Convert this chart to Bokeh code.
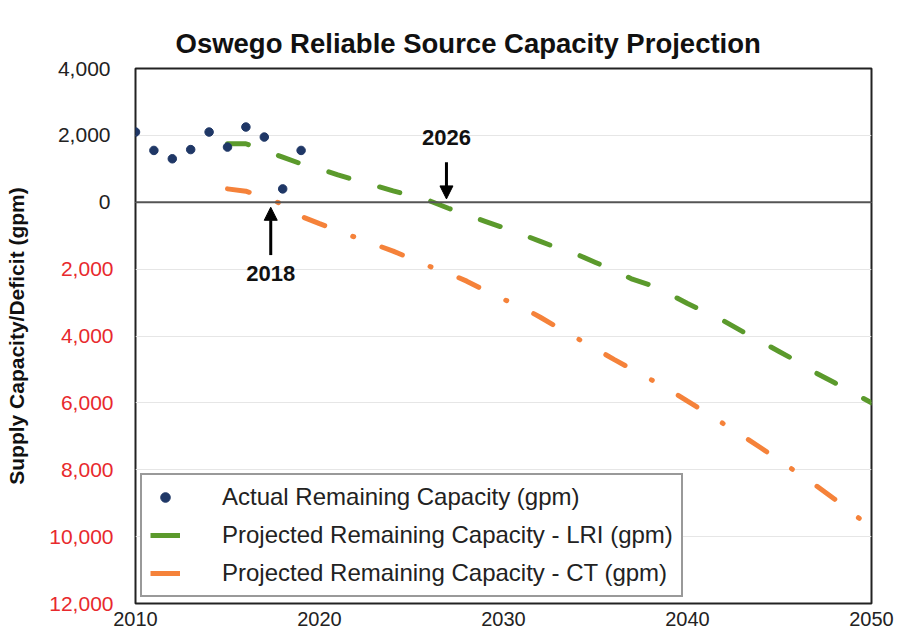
from bokeh.plotting import figure
from bokeh.models import (Range1d, FixedTicker, LinearAxis, Span, Arrow, NormalHead,
                          Label, Legend, LegendItem)
from bokeh.embed import file_html
from bokeh.resources import INLINE

# ---- data ----
years_actual = [2010, 2011, 2012, 2013, 2014, 2015, 2016, 2017, 2018, 2019]
actual_capacity = [2100, 1550, 1300, 1575, 2100, 1650, 2250, 1950, 400, 1550]

years_proj = list(range(2015, 2051))
lri_capacity = [1750, 1750, 1550, 1350, 1150, 1000, 820, 650, 500, 340,
                190, 40, -180, -380, -570, -760, -960, -1170, -1380, -1560,
                -1800, -2040, -2300, -2480, -2740, -3030, -3290, -3560, -3870, -4170,
                -4470, -4770, -5110, -5400, -5700, -6000]
ct_capacity = [400, 330, 150, -60, -420, -640, -850, -1060, -1260, -1460,
               -1690, -1920, -2120, -2360, -2640, -2900, -3140, -3440, -3760, -4070,
               -4380, -4700, -5000, -5300, -5600, -5950, -6290, -6640, -6990, -7350,
               -7720, -8100, -8480, -8880, -9320, -9720]

y_ticks_pos = [4000, 2000, 0]
y_labels_pos = ["4,000", "2,000", "0"]
y_ticks_neg = [-2000, -4000, -6000, -8000, -10000, -12000]
y_labels_neg = ["2,000", "4,000", "6,000", "8,000", "10,000", "12,000"]
x_ticks = [2010, 2020, 2030, 2040, 2050]

FONT = "Liberation Sans"
GREEN = "#5B9A2C"
ORANGE = "#F5823A"
NAVY = "#1F3766"
RED = "#E8292D"
DARK = "#222222"
TICK_PX = 21

p = figure(width=894, height=628, output_backend="svg", toolbar_location=None,
           x_range=Range1d(2010, 2050), y_range=Range1d(-12000, 4000),
           min_border_left=135, min_border_right=23, min_border_top=68, min_border_bottom=20)

p.title.text = "Oswego Reliable Source Capacity Projection"
p.title.text_font = FONT
p.title.text_font_size = "27.5px"
p.title.text_font_style = "bold"
p.title.text_color = "#111111"
p.title.align = "left"
p.title.offset = 40
p.title.standoff = 19

p.outline_line_color = "#222222"
p.outline_line_width = 2
p.background_fill_color = "white"
p.border_fill_color = "white"

# x axis
p.xaxis.ticker = FixedTicker(ticks=x_ticks)
p.xaxis.axis_line_color = None
p.xaxis.major_tick_line_color = None
p.xaxis.minor_tick_line_color = None
p.xaxis.major_label_text_font = FONT
p.xaxis.major_label_text_font_size = "20px"
p.xaxis.major_label_text_color = DARK
p.xaxis.major_label_standoff = 2

def style_y(ax, color, standoff):
    ax.axis_line_color = None
    ax.major_tick_line_color = None
    ax.minor_tick_line_color = None
    ax.major_tick_out = 0
    ax.major_label_text_font = FONT
    ax.major_label_text_font_size = f"{TICK_PX}px"
    ax.major_label_text_color = color
    ax.major_label_standoff = standoff

# inner y axis (next to the frame): deficit values in red, shown without sign
ya = p.yaxis[0]
ya.ticker = FixedTicker(ticks=y_ticks_neg)
ya.major_label_overrides = {t: s for t, s in zip(y_ticks_neg, y_labels_neg)}
style_y(ya, RED, 22)

# outer y axis: capacity values in dark grey, pulled back so both columns right-align
widest = 3.06 * TICK_PX  # width of "12,000" in the tick font
yb = LinearAxis(ticker=FixedTicker(ticks=y_ticks_pos),
                major_label_overrides={t: s for t, s in zip(y_ticks_pos, y_labels_pos)})
style_y(yb, DARK, -int(round(widest)))
yb.axis_label = "Supply Capacity/Deficit (gpm)"
yb.axis_label_text_font = FONT
yb.axis_label_text_font_size = "21px"
yb.axis_label_text_font_style = "bold"
yb.axis_label_text_color = "#111111"
yb.axis_label_standoff = 27
p.add_layout(yb, "left")

p.xgrid.grid_line_color = None
p.ygrid.ticker = FixedTicker(ticks=y_ticks_pos + y_ticks_neg)
p.ygrid.grid_line_color = "#e6e6e6"
p.ygrid.grid_line_width = 1

# zero line
p.add_layout(Span(location=0, dimension="width", line_color="#555555", line_width=2))

# series
p.line(years_proj, lri_capacity, line_color=GREEN, line_width=5,
       line_dash="21 32", line_cap="round")
p.line(years_proj, ct_capacity, line_color=ORANGE, line_width=5,
       line_dash="22 30 1 30", line_cap="round")
r_act = p.scatter(years_actual, actual_capacity, size=8.5, fill_color=NAVY, line_color=NAVY)

# legend-only solid swatches (hidden renderers)
leg_lri = p.line(years_proj, lri_capacity, line_color=GREEN, line_width=5, visible=False)
leg_ct = p.line(years_proj, ct_capacity, line_color=ORANGE, line_width=5, visible=False)

# annotations
p.add_layout(Arrow(end=NormalHead(size=13, fill_color="black", line_color="black"),
                   x_start=2026.9, y_start=1200, x_end=2026.9, y_end=100,
                   line_color="black", line_width=3))
p.add_layout(Label(x=2026.9, y=1950, text="2026", text_align="center", text_baseline="middle",
                   text_font=FONT, text_font_size="22px", text_font_style="bold",
                   text_color="#111111"))
p.add_layout(Arrow(end=NormalHead(size=13, fill_color="black", line_color="black"),
                   x_start=2017.35, y_start=-1580, x_end=2017.35, y_end=-150,
                   line_color="black", line_width=3))
p.add_layout(Label(x=2017.35, y=-2120, text="2018", text_align="center", text_baseline="middle",
                   text_font=FONT, text_font_size="22px", text_font_style="bold",
                   text_color="#111111"))

legend = Legend(items=[
    LegendItem(label="Actual Remaining Capacity (gpm)", renderers=[r_act]),
    LegendItem(label="Projected Remaining Capacity - LRI (gpm)", renderers=[leg_lri]),
    LegendItem(label="Projected Remaining Capacity - CT (gpm)", renderers=[leg_ct]),
], location=(5, 6))
legend.label_text_font = FONT
legend.label_text_font_size = "24px"
legend.label_text_color = DARK
legend.border_line_color = "#333333"
legend.border_line_width = 2
legend.padding = 8
legend.spacing = 10
legend.label_height = 24
legend.glyph_height = 24
legend.glyph_width = 30
legend.label_standoff = 42
legend.margin = 0
legend.background_fill_alpha = 1
legend.inactive_fill_alpha = 0
p.add_layout(legend)

open("out.html", "w").write(file_html(p, INLINE))
